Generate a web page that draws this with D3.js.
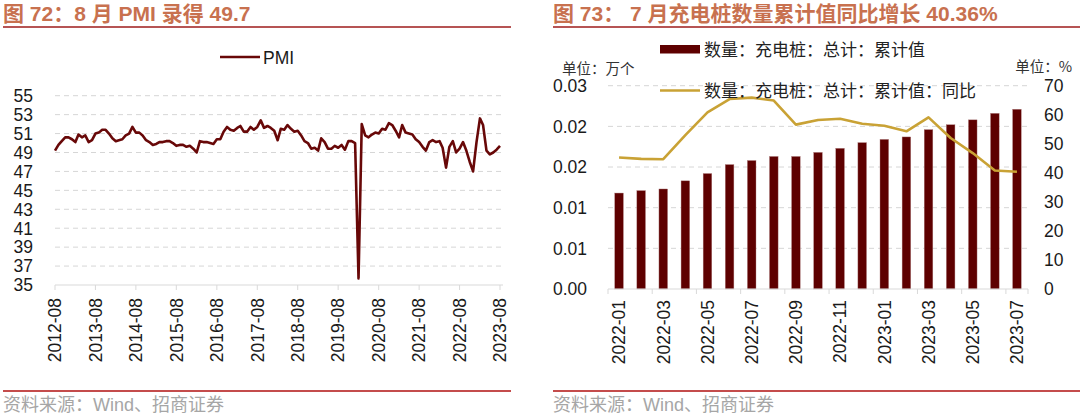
<!DOCTYPE html>
<html><head><meta charset="utf-8">
<script src="https://cdn.jsdelivr.net/npm/d3@7"></script>
<style>
html,body{margin:0;padding:0;background:#fff;}
svg{display:block;font-family:"Liberation Sans",Arial,"Noto Sans CJK SC",sans-serif;}
</style></head>
<body>
<svg id="c" width="1080" height="416"></svg>
<script>
// ---------- data ----------
const pmiStart = "2012-08";
const pmiValues = [
  49.2,49.8,50.2,50.6,50.6,
  50.4,50.1,50.9,50.6,50.8,50.1,50.3,51.0,51.1,51.4,51.4,51.0,
  50.5,50.2,50.3,50.4,50.8,51.0,51.7,51.1,51.1,50.8,50.3,50.1,
  49.8,49.9,50.1,50.1,50.2,50.2,50.0,49.7,49.8,49.8,49.6,49.7,
  49.4,49.0,50.2,50.1,50.1,50.0,49.9,50.4,50.4,51.2,51.7,51.4,
  51.3,51.6,51.8,51.2,51.2,51.7,51.4,51.7,52.4,51.6,51.8,51.6,
  51.3,50.3,51.5,51.4,51.9,51.5,51.2,51.3,50.8,50.2,50.0,49.4,
  49.5,49.2,50.5,50.1,49.4,49.4,49.7,49.5,49.8,49.3,50.2,50.2,
  50.0,35.7,52.0,50.8,50.6,50.9,51.1,51.0,51.5,51.4,52.1,51.9,
  51.3,50.6,51.9,51.1,51.0,50.9,50.4,50.1,49.6,49.2,50.1,50.3,
  50.1,50.2,49.5,47.4,49.6,50.2,49.0,49.4,50.1,49.2,48.0,47.0,
  50.1,52.6,51.9,49.2,48.8,49.0,49.3,49.7
];
const pmiXTicks = ["2012-08","2013-08","2014-08","2015-08","2016-08","2017-08","2018-08","2019-08","2020-08","2021-08","2022-08","2023-08"];
const pmiYTicks = [35,37,39,41,43,45,47,49,51,53,55];

const pileMonths = ["2022-01","2022-02","2022-03","2022-04","2022-05","2022-06","2022-07","2022-08","2022-09","2022-10","2022-11","2022-12","2023-01","2023-02","2023-03","2023-04","2023-05","2023-06","2023-07"];
const pileCumulative = [0.0118,0.0121,0.0123,0.0133,0.0142,0.0153,0.0158,0.0163,0.0163,0.0168,0.0173,0.0180,0.0184,0.0187,0.0196,0.0202,0.0208,0.0216,0.0221];
const pileYoY = [45.3,44.8,44.7,53.0,60.8,65.4,65.9,64.9,56.6,58.2,58.6,56.9,56.2,54.3,59.1,52.0,46.8,40.8,40.36];
const pileXTicks = ["2022-01","2022-03","2022-05","2022-07","2022-09","2022-11","2023-01","2023-03","2023-05","2023-07"];
const pileLeftTickValues = [0,0.005,0.01,0.015,0.02,0.025];
const pileLeftTickLabels = ["0.00","0.01","0.01","0.02","0.02","0.03"];
const pileRightTicks = [0,10,20,30,40,50,60,70];

// ---------- styles ----------
const titleColor = "#c8714f";
const ruleColor = "#9e1b1b";
const gridColor = "#d6d6d6";
const axisColor = "#d9d9d9";
const pmiColor = "#680808";
const barColor = "#5e0000";
const goldColor = "#c9a235";
const cjk = "'Noto Sans CJK SC',sans-serif";

const svg = d3.select("#c");

// ---------- frame: titles, rules, sources ----------
function frame(x0, x1, title) {
  svg.append("text").attr("x", x0).attr("y", 21)
    .attr("fill", titleColor).attr("font-weight", "bold").attr("font-size", 21)
    .text(title);
  svg.append("line").attr("x1", x0).attr("x2", x1).attr("y1", 27).attr("y2", 27)
    .attr("stroke", ruleColor).attr("stroke-width", 1.3);
  svg.append("line").attr("x1", x0).attr("x2", x1).attr("y1", 391).attr("y2", 391)
    .attr("stroke", "#b01010").attr("stroke-width", 1.3);
  svg.append("text").attr("x", x0).attr("y", 411)
    .attr("fill", "#a6a6a6").attr("font-size", 18)
    .text("资料来源：Wind、招商证券");
}
frame(3, 511, "图 72：8 月 PMI 录得 49.7");
frame(553, 1080, "图 73：  7 月充电桩数量累计值同比增长 40.36%");

// ---------- left chart: PMI ----------
{
  const parse = d3.timeParse("%Y-%m");
  const start = parse(pmiStart);
  const months = pmiValues.map((v, i) => d3.timeMonth.offset(start, i));
  const fmt = d3.timeFormat("%Y-%m");
  const x = d3.scaleTime().domain([months[0], months[months.length - 1]]).range([55, 500]);
  const y = d3.scaleLinear().domain([35, 55]).range([285, 95.7]);

  const g = svg.append("g");
  g.selectAll(".grid").data(pmiYTicks.filter(t => t > 35)).join("line")
    .attr("x1", 55).attr("x2", 503).attr("y1", d => y(d)).attr("y2", d => y(d))
    .attr("stroke", gridColor).attr("stroke-width", 1).attr("stroke-dasharray", "5,4");
  g.selectAll(".yl").data(pmiYTicks).join("text")
    .attr("x", 33).attr("y", d => y(d)).attr("dy", "0.36em")
    .attr("text-anchor", "end").attr("font-size", 17.5).attr("fill", "#1a1a1a")
    .text(d => d);
  g.append("line").attr("x1", 55).attr("x2", 503).attr("y1", y(35)).attr("y2", y(35))
    .attr("stroke", axisColor).attr("stroke-width", 1);
  const tickDates = pmiXTicks.map(s => parse(s));
  g.selectAll(".xt").data(tickDates).join("line")
    .attr("x1", d => x(d)).attr("x2", d => x(d)).attr("y1", y(35)).attr("y2", y(35) + 5)
    .attr("stroke", axisColor);
  g.selectAll(".xl").data(tickDates).join("text")
    .attr("transform", d => `translate(${x(d)},${y(35) + 13}) rotate(-90)`)
    .attr("text-anchor", "end").attr("dy", "0.36em").attr("font-size", 17.5).attr("fill", "#1a1a1a")
    .text(d => fmt(d));
  g.append("path").datum(pmiValues)
    .attr("d", d3.line().x((d, i) => x(months[i])).y(d => y(d)))
    .attr("fill", "none").attr("stroke", pmiColor).attr("stroke-width", 2.6)
    .attr("stroke-linejoin", "round");
  g.append("line").attr("x1", 220).attr("x2", 260).attr("y1", 57).attr("y2", 57)
    .attr("stroke", pmiColor).attr("stroke-width", 2.6);
  g.append("text").attr("x", 263).attr("y", 63.5).attr("font-size", 17.5).attr("fill", "#1a1a1a").text("PMI");
}

// ---------- right chart: charging piles ----------
{
  const x = d3.scaleBand().domain(pileMonths).range([608, 1028]).padding(0);
  const bw = x.bandwidth() * 0.39;
  const yL = d3.scaleLinear().domain([0, 0.025]).range([289, 85.7]);
  const yR = d3.scaleLinear().domain([0, 70]).range([289, 85.7]);
  const g = svg.append("g");

  g.selectAll(".grid").data(pileLeftTickValues.filter(t => t > 0)).join("line")
    .attr("x1", 608).attr("x2", 1028).attr("y1", d => yL(d)).attr("y2", d => yL(d))
    .attr("stroke", gridColor).attr("stroke-width", 1).attr("stroke-dasharray", "5,4");

  g.selectAll(".yl").data(pileLeftTickValues).join("text")
    .attr("x", 587).attr("y", d => yL(d)).attr("dy", "0.36em")
    .attr("text-anchor", "end").attr("font-size", 17.5).attr("fill", "#1a1a1a")
    .text((d, i) => pileLeftTickLabels[i]);
  g.selectAll(".yr").data(pileRightTicks).join("text")
    .attr("x", 1044).attr("y", d => yR(d)).attr("dy", "0.36em")
    .attr("text-anchor", "start").attr("font-size", 17.5).attr("fill", "#1a1a1a")
    .text(d => d);

  g.selectAll(".bar").data(pileCumulative).join("rect")
    .attr("x", (d, i) => x(pileMonths[i]) + (x.bandwidth() - bw) / 2)
    .attr("width", bw)
    .attr("y", d => yL(d)).attr("height", d => yL(0) - yL(d))
    .attr("fill", barColor).attr("stroke", "#b08080").attr("stroke-width", 0.4);

  g.append("line").attr("x1", 608).attr("x2", 1028).attr("y1", 289).attr("y2", 289)
    .attr("stroke", axisColor);
  const tickIdx = pileMonths.map((m, i) => i).filter(i => i % 2 === 0);
  g.selectAll(".xt").data(tickIdx.concat([pileMonths.length])).join("line")
    .attr("x1", i => i < pileMonths.length ? x(pileMonths[i]) : 1028)
    .attr("x2", i => i < pileMonths.length ? x(pileMonths[i]) : 1028)
    .attr("y1", 289).attr("y2", 294).attr("stroke", axisColor);
  g.selectAll(".xl").data(pileXTicks).join("text")
    .attr("transform", d => `translate(${x(d) + x.bandwidth() / 2},${300}) rotate(-90)`)
    .attr("text-anchor", "end").attr("dy", "0.36em").attr("font-size", 17.5).attr("fill", "#1a1a1a")
    .text(d => d);

  g.append("path").datum(pileYoY)
    .attr("d", d3.line().x((d, i) => x(pileMonths[i]) + x.bandwidth() / 2).y(d => yR(d)))
    .attr("fill", "none").attr("stroke", goldColor).attr("stroke-width", 2.6)
    .attr("stroke-linejoin", "round");

  g.append("text").attr("x", 562).attr("y", 74).attr("font-size", 14.5).attr("fill", "#333")
    .attr("font-family", cjk).text("单位：万个");
  g.append("text").attr("x", 1072).attr("y", 72).attr("text-anchor", "end").attr("font-size", 14.5).attr("fill", "#333")
    .attr("font-family", cjk).text("单位：%");

  g.append("rect").attr("x", 660).attr("y", 45).attr("width", 40).attr("height", 8.5).attr("fill", barColor);
  g.append("text").attr("x", 704).attr("y", 55.5).attr("font-size", 17).attr("fill", "#222")
    .attr("font-family", cjk).text("数量：充电桩：总计：累计值");
  g.append("line").attr("x1", 660).attr("x2", 700).attr("y1", 90.5).attr("y2", 90.5)
    .attr("stroke", goldColor).attr("stroke-width", 2.6);
  g.append("text").attr("x", 704).attr("y", 96.5).attr("font-size", 17).attr("fill", "#222")
    .attr("font-family", cjk).text("数量：充电桩：总计：累计值：同比");
}
</script>
</body></html>
